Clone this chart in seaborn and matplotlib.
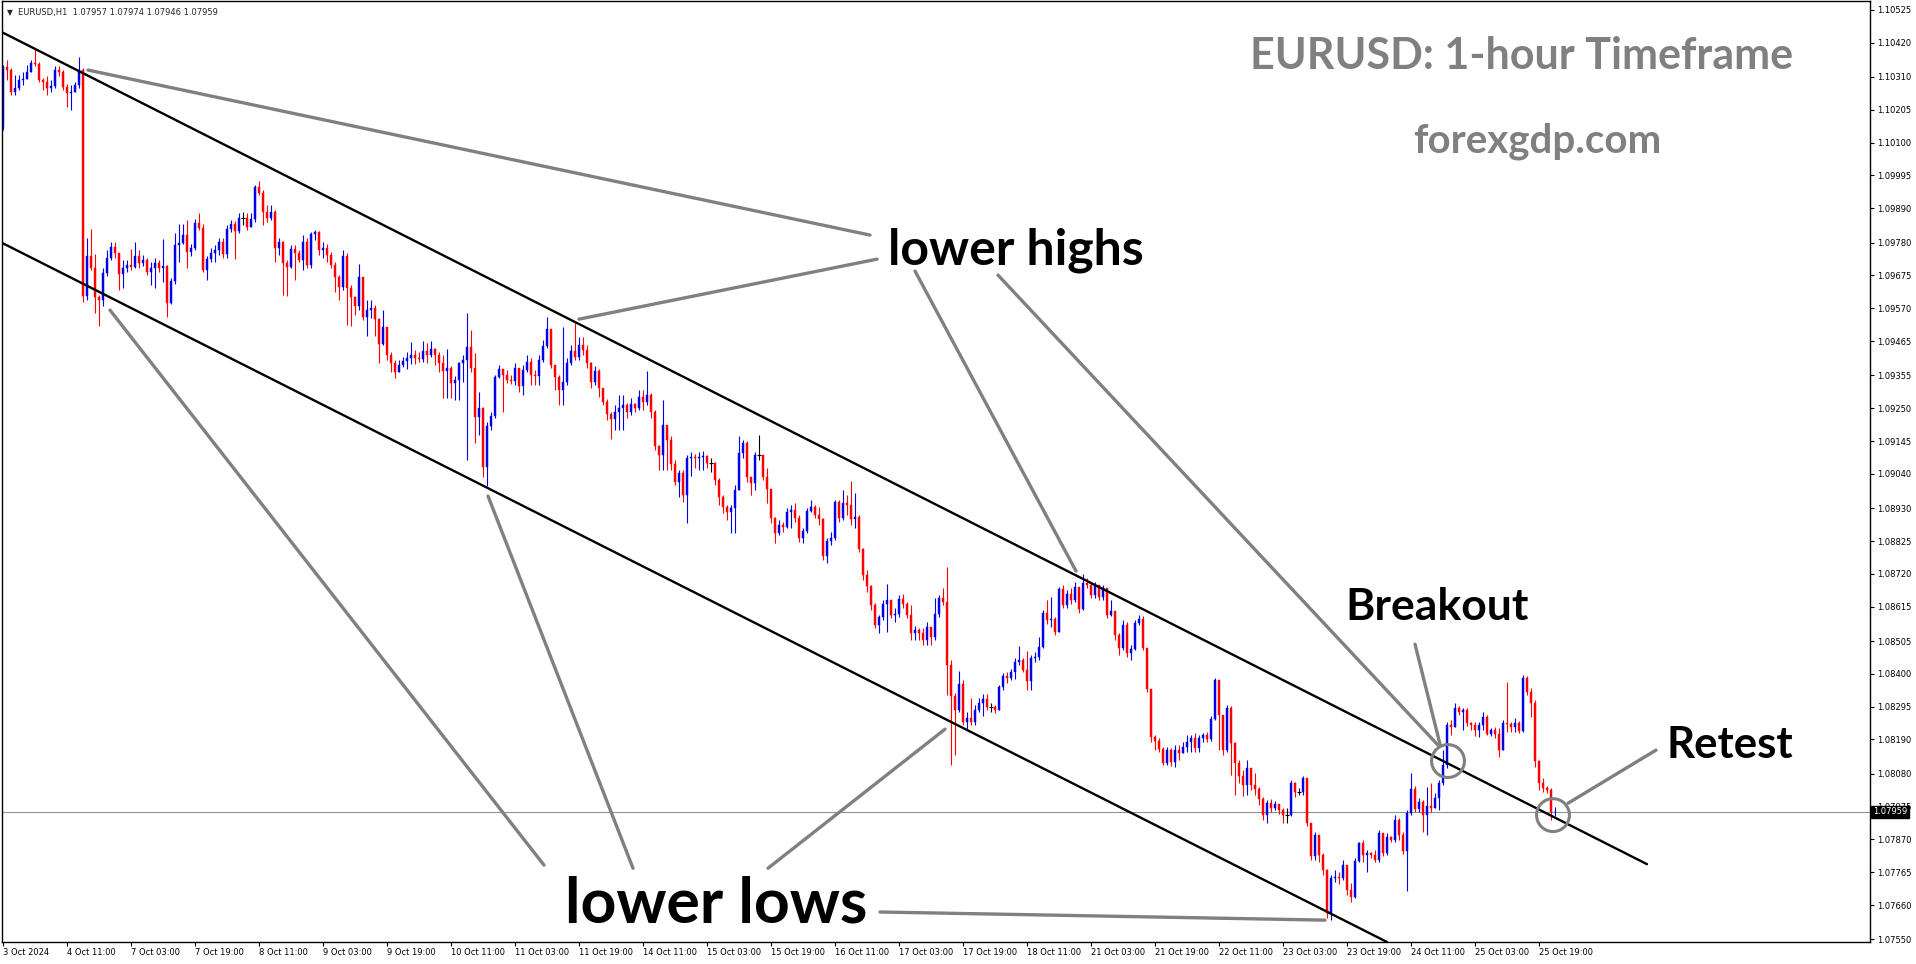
import numpy as np
import pandas as pd
import matplotlib
matplotlib.use("Agg")
import matplotlib.pyplot as plt
import matplotlib.transforms as mtransforms
import seaborn as sns

# EURUSD H1, bar 0 = 3 Oct 19:00 ... bar 388 = 25 Oct 23:00, prices in points (1e-5)
first_open = 110150
close_pts = [
    110342, 110332, 110262, 110274, 110300, 110303, 110326, 110354, 110351, 110300, 110294, 110274, 110281, 110332, 110326, 110278, 110258, 110262, 110284, 110332,
    109609, 109737, 109698, 109606, 109596, 109682, 109730, 109766, 109746, 109679, 109698, 109708, 109702, 109737, 109714, 109724, 109686, 109698, 109714, 109698,
    109705, 109586, 109657, 109772, 109778, 109804, 109750, 109762, 109842, 109826, 109692, 109727, 109746, 109756, 109782, 109743, 109823, 109839, 109817, 109858,
    109858, 109830, 109855, 109958, 109938, 109878, 109858, 109878, 109762, 109782, 109714, 109702, 109759, 109746, 109724, 109782, 109708, 109807, 109814, 109756,
    109762, 109740, 109708, 109670, 109638, 109737, 109634, 109606, 109577, 109670, 109542, 109564, 109570, 109535, 109455, 109510, 109420, 109394, 109366, 109388,
    109401, 109410, 109420, 109410, 109407, 109433, 109420, 109439, 109420, 109394, 109369, 109378, 109330, 109340, 109394, 109404, 109446, 109378, 109222, 109250,
    109062, 109193, 109225, 109350, 109375, 109356, 109340, 109337, 109378, 109321, 109372, 109398, 109356, 109353, 109404, 109449, 109503, 109388, 109350, 109308,
    109334, 109394, 109433, 109414, 109452, 109436, 109394, 109334, 109369, 109314, 109270, 109231, 109215, 109238, 109250, 109260, 109238, 109263, 109250, 109286,
    109270, 109292, 109238, 109129, 109100, 109196, 109148, 109071, 109014, 109042, 108972, 109090, 109094, 109090, 109094, 109097, 109074, 109074, 109020, 108966,
    108934, 108918, 108930, 108988, 109106, 109138, 109030, 109010, 109100, 109100, 109030, 108991, 108898, 108850, 108876, 108870, 108918, 108924, 108898, 108834,
    108857, 108921, 108934, 108908, 108895, 108777, 108825, 108834, 108950, 108898, 108946, 108940, 108895, 108902, 108799, 108716, 108681, 108620, 108556, 108582,
    108623, 108636, 108588, 108591, 108639, 108623, 108588, 108530, 108540, 108530, 108508, 108550, 108518, 108591, 108642, 108630, 108428, 108329, 108284, 108367,
    108246, 108258, 108246, 108284, 108306, 108319, 108294, 108294, 108284, 108358, 108393, 108386, 108406, 108438, 108444, 108412, 108377, 108450, 108454, 108486,
    108594, 108572, 108575, 108534, 108671, 108620, 108655, 108636, 108678, 108607, 108690, 108684, 108652, 108684, 108646, 108674, 108588, 108601, 108524, 108482,
    108556, 108466, 108479, 108562, 108575, 108482, 108351, 108198, 108185, 108159, 108114, 108156, 108118, 108156, 108146, 108166, 108182, 108194, 108162, 108194,
    108204, 108191, 108255, 108380, 108268, 108156, 108290, 108178, 108114, 108073, 108044, 108098, 108044, 108031, 107999, 107948, 107986, 107970, 107983, 107964,
    107948, 107948, 108050, 108022, 108022, 108066, 107922, 107817, 107884, 107820, 107772, 107634, 107746, 107750, 107746, 107788, 107708, 107686, 107801, 107858,
    107820, 107826, 107820, 107804, 107890, 107826, 107878, 107868, 107932, 107884, 107833, 107954, 108031, 107967, 107990, 107948, 107977, 107970, 108002, 108050,
    108108, 108236, 108230, 108290, 108278, 108284, 108242, 108236, 108220, 108236, 108262, 108207, 108220, 108207, 108156, 108242, 108239, 108230, 108242, 108217,
    108386, 108342, 108306, 108121, 108050, 108034, 108028, 107957, 107959,
]
high_pts = [
    110348, 110364, 110338, 110316, 110316, 110326, 110348, 110364, 110402, 110358, 110306, 110313, 110300, 110345, 110345, 110332, 110287, 110284, 110294, 110374,
    110338, 109794, 109823, 109743, 109612, 109698, 109756, 109782, 109782, 109708, 109724, 109724, 109759, 109782, 109756, 109740, 109730, 109718, 109730, 109724,
    109791, 109708, 109666, 109810, 109839, 109839, 109852, 109775, 109855, 109874, 109839, 109737, 109762, 109772, 109794, 109794, 109836, 109852, 109849, 109874,
    109878, 109874, 109874, 109964, 109977, 109948, 109900, 109900, 109884, 109794, 109785, 109724, 109772, 109772, 109756, 109804, 109794, 109814, 109820, 109817,
    109782, 109775, 109750, 109718, 109676, 109756, 109746, 109644, 109609, 109711, 109663, 109596, 109596, 109580, 109538, 109564, 109510, 109430, 109404, 109404,
    109414, 109430, 109462, 109436, 109430, 109465, 109458, 109465, 109442, 109430, 109420, 109439, 109385, 109353, 109398, 109420, 109554, 109500, 109426, 109302,
    109254, 109206, 109238, 109356, 109388, 109362, 109372, 109356, 109394, 109378, 109388, 109420, 109410, 109372, 109420, 109468, 109542, 109500, 109388, 109356,
    109510, 109410, 109452, 109522, 109478, 109478, 109452, 109398, 109385, 109375, 109314, 109279, 109238, 109260, 109292, 109292, 109266, 109282, 109266, 109308,
    109308, 109369, 109298, 109244, 109132, 109276, 109196, 109161, 109084, 109052, 109052, 109100, 109110, 109103, 109110, 109113, 109100, 109090, 109078, 109026,
    108972, 108940, 108940, 109004, 109161, 109148, 109145, 109026, 109110, 109164, 109100, 109058, 108991, 108902, 108892, 108886, 108930, 108940, 108946, 108908,
    108866, 108930, 108956, 108940, 108934, 108898, 108834, 108854, 108956, 108956, 108988, 108972, 109017, 108978, 108908, 108802, 108732, 108684, 108626, 108588,
    108636, 108687, 108620, 108610, 108652, 108655, 108630, 108620, 108553, 108546, 108546, 108566, 108550, 108642, 108652, 108674, 108742, 108444, 108338, 108409,
    108380, 108278, 108322, 108300, 108322, 108335, 108335, 108306, 108300, 108364, 108402, 108406, 108415, 108450, 108489, 108450, 108473, 108460, 108470, 108518,
    108604, 108636, 108646, 108582, 108678, 108684, 108668, 108674, 108694, 108668, 108719, 108706, 108690, 108694, 108668, 108684, 108674, 108636, 108598, 108530,
    108572, 108566, 108492, 108572, 108588, 108585, 108482, 108351, 108204, 108194, 108166, 108166, 108162, 108172, 108172, 108182, 108204, 108204, 108210, 108204,
    108210, 108214, 108265, 108386, 108370, 108268, 108300, 108297, 108182, 108124, 108092, 108124, 108098, 108082, 108038, 108006, 107996, 108000, 107993, 107983,
    107970, 107970, 108060, 108054, 108034, 108073, 108066, 107922, 107894, 107884, 107826, 107775, 107756, 107772, 107766, 107804, 107788, 107730, 107810, 107862,
    107868, 107836, 107830, 107836, 107900, 107890, 107890, 107881, 107948, 107938, 107894, 107964, 108082, 108041, 108002, 107996, 108038, 108050, 108018, 108060,
    108156, 108246, 108252, 108306, 108297, 108290, 108290, 108246, 108246, 108246, 108278, 108268, 108226, 108230, 108226, 108252, 108374, 108246, 108258, 108249,
    108396, 108393, 108354, 108316, 108124, 108066, 108041, 108034, 107974,
]
low_pts = [
    110140, 110300, 110252, 110252, 110268, 110284, 110306, 110332, 110345, 110294, 110268, 110252, 110262, 110274, 110313, 110268, 110214, 110204, 110262, 110274,
    109590, 109596, 109692, 109554, 109513, 109577, 109673, 109724, 109730, 109628, 109634, 109686, 109692, 109698, 109698, 109705, 109676, 109644, 109634, 109686,
    109654, 109542, 109583, 109647, 109718, 109775, 109698, 109737, 109756, 109820, 109686, 109660, 109718, 109718, 109740, 109730, 109730, 109814, 109727, 109810,
    109836, 109820, 109833, 109846, 109932, 109836, 109846, 109852, 109718, 109740, 109612, 109609, 109698, 109660, 109718, 109692, 109698, 109698, 109788, 109740,
    109730, 109718, 109698, 109622, 109596, 109628, 109516, 109513, 109548, 109564, 109532, 109481, 109538, 109481, 109394, 109452, 109404, 109366, 109346, 109366,
    109382, 109375, 109391, 109391, 109398, 109398, 109394, 109414, 109388, 109366, 109282, 109282, 109282, 109276, 109276, 109334, 109084, 109366, 109138, 109164,
    109030, 109001, 109180, 109218, 109346, 109238, 109330, 109327, 109324, 109302, 109292, 109366, 109324, 109324, 109324, 109398, 109442, 109378, 109308, 109260,
    109260, 109324, 109388, 109404, 109404, 109420, 109378, 109314, 109324, 109286, 109260, 109212, 109151, 109180, 109180, 109180, 109218, 109228, 109238, 109244,
    109244, 109260, 109218, 109116, 109052, 109052, 109052, 109052, 109004, 108966, 108950, 108882, 109033, 109058, 109052, 109052, 109058, 109046, 109004, 108940,
    108914, 108892, 108850, 108850, 108988, 109090, 109014, 108972, 108988, 109084, 109020, 108946, 108882, 108818, 108844, 108854, 108866, 108866, 108886, 108822,
    108818, 108850, 108918, 108898, 108876, 108764, 108754, 108812, 108828, 108886, 108892, 108908, 108876, 108866, 108790, 108700, 108662, 108604, 108546, 108530,
    108572, 108534, 108578, 108566, 108582, 108610, 108578, 108508, 108508, 108508, 108492, 108492, 108492, 108508, 108582, 108620, 108332, 108108, 108140, 108278,
    108236, 108220, 108236, 108236, 108278, 108265, 108284, 108278, 108274, 108284, 108348, 108370, 108380, 108383, 108428, 108406, 108348, 108348, 108438, 108444,
    108482, 108559, 108550, 108524, 108534, 108610, 108610, 108623, 108630, 108594, 108604, 108674, 108642, 108642, 108636, 108636, 108578, 108585, 108508, 108460,
    108476, 108454, 108444, 108476, 108556, 108476, 108342, 108182, 108156, 108150, 108108, 108108, 108105, 108102, 108124, 108146, 108150, 108150, 108150, 108150,
    108182, 108182, 108185, 108252, 108156, 108140, 108150, 108076, 108012, 108050, 108009, 108012, 108028, 108012, 107980, 107932, 107922, 107958, 107964, 107951,
    107922, 107922, 107945, 108006, 108012, 108012, 107913, 107804, 107804, 107798, 107756, 107618, 107612, 107734, 107727, 107740, 107692, 107670, 107682, 107798,
    107798, 107766, 107810, 107798, 107798, 107817, 107820, 107862, 107862, 107868, 107823, 107705, 107948, 107958, 107958, 107894, 107884, 107958, 107970, 107964,
    108044, 108098, 108204, 108230, 108268, 108220, 108233, 108220, 108201, 108198, 108220, 108204, 108201, 108194, 108134, 108162, 108214, 108214, 108214, 108210,
    108214, 108332, 108262, 108102, 108028, 108022, 108018, 107932, 107946,
]

time_labels = ["3 Oct 2024", "4 Oct 11:00", "7 Oct 03:00", "7 Oct 19:00", "8 Oct 11:00",
               "9 Oct 03:00", "9 Oct 19:00", "10 Oct 11:00", "11 Oct 03:00", "11 Oct 19:00",
               "14 Oct 11:00", "15 Oct 03:00", "15 Oct 19:00", "16 Oct 11:00", "17 Oct 03:00",
               "17 Oct 19:00", "18 Oct 11:00", "21 Oct 03:00", "21 Oct 19:00", "22 Oct 11:00",
               "23 Oct 03:00", "23 Oct 19:00", "24 Oct 11:00", "25 Oct 03:00", "25 Oct 19:00"]
price_ticks = [1.10525, 1.10420, 1.10310, 1.10205, 1.10100, 1.09995, 1.09890, 1.09780,
               1.09675, 1.09570, 1.09465, 1.09355, 1.09250, 1.09145, 1.09040, 1.08930,
               1.08825, 1.08720, 1.08615, 1.08505, 1.08400, 1.08295, 1.08190, 1.08080,
               1.07975, 1.07870, 1.07765, 1.07660, 1.07550]

# channel lines (bar, price)
channel_upper = ([-1, 411], [1.10458, 1.07791])
channel_lower = ([-1, 346], [1.09784, 1.07542])
# grey pointer lines (bar0, price0, bar1, price1)
pointer_lines = [
    (21.25, 1.10332, 216.75, 1.09804),
    (144.0, 1.09535, 218.5, 1.09727),
    (268.25, 1.08729, 228.0, 1.09689),
    (358.75, 1.08172, 248.75, 1.09676),
    (26.75, 1.09564, 135.25, 1.07788),
    (121.25, 1.08969, 157.5, 1.07778),
    (235.5, 1.08223, 191.25, 1.07778),
    (219.25, 1.07638, 330.5, 1.07612),
    (353.0, 1.08495, 359.25, 1.08175),
    (391.25, 1.07986, 413.25, 1.08156),
]
circles = [(361.25, 1.08121), (387.5, 1.07948)]

close = np.array(close_pts) / 1e5
high = np.array(high_pts) / 1e5
low = np.array(low_pts) / 1e5
opn = np.concatenate([[first_open / 1e5], close[:-1]])
high = np.maximum(high, np.maximum(opn, close))
low = np.minimum(low, np.minimum(opn, close))
bars = np.arange(len(close))

sns.set_style("white")
plt.rcParams["font.family"] = ["DejaVu Sans"]

fig = plt.figure(figsize=(19.16, 9.64), dpi=100)
ax = fig.add_axes([2 / 1916, 22 / 964, 1868 / 1916, 941 / 964])

up = close > opn
down = close < opn
flat = ~(up | down)
blue, red = "#0000e6", "#ff0000"

ax.vlines(bars[up], low[up], high[up], color=blue, lw=0.8, zorder=2)
ax.vlines(bars[down], low[down], high[down], color=red, lw=0.8, zorder=2)
ax.vlines(bars[flat], low[flat], high[flat], color="black", lw=0.8, zorder=2)
ax.bar(bars[up], (close - opn)[up], bottom=opn[up], width=0.72, color=blue,
       edgecolor=blue, lw=0.3, zorder=2)
ax.bar(bars[down], (close - opn)[down], bottom=opn[down], width=0.72, color=red,
       edgecolor=red, lw=0.3, zorder=2)
ax.hlines(close[flat], bars[flat] - 0.4, bars[flat] + 0.4, color="black", lw=0.8, zorder=2)

# trend channel
chan = pd.DataFrame({
    "bar": channel_upper[0] + channel_lower[0],
    "price": channel_upper[1] + channel_lower[1],
    "seg": ["up", "up", "low", "low"],
})
sns.lineplot(data=chan, x="bar", y="price", units="seg", estimator=None, sort=False,
             color="black", lw=1.7, ax=ax, zorder=3)

rows = []
for k, (b0, p0, b1, p1) in enumerate(pointer_lines):
    rows.append((k, b0, p0))
    rows.append((k, b1, p1))
ptr = pd.DataFrame(rows, columns=["seg", "bar", "price"])
sns.lineplot(data=ptr, x="bar", y="price", units="seg", estimator=None, sort=False,
             color="#808080", lw=2.4, ax=ax, zorder=4)

ax.scatter([c[0] for c in circles], [c[1] for c in circles], s=560,
           facecolors="none", edgecolors="#808080", linewidths=2.2, zorder=5)

# current price line + box
last = close[-1]
ax.axhline(last, color="#8793a3", lw=0.8, zorder=1)
trans = mtransforms.blended_transform_factory(ax.transAxes, ax.transData)
ax.text(1.0015, last, f"{last:.5f}", transform=trans, color="white", fontsize=6,
        va="center", ha="left", clip_on=False, zorder=10,
        bbox=dict(boxstyle="square,pad=0.2", fc="black", ec="black"))

ax.set_xlim(-0.25, 466.75)
ax.set_ylim(1.07542, 1.10553)
ax.set_xlabel("")
ax.set_ylabel("")

ax.set_xticks(np.arange(0, 16 * len(time_labels), 16))
ax.set_xticklabels(time_labels)
for lbl in ax.get_xticklabels():
    lbl.set_horizontalalignment("left")
ax.yaxis.tick_right()
ax.set_yticks(price_ticks)
ax.set_yticklabels([f"{v:.5f}" for v in price_ticks])
ax.tick_params(axis="both", labelsize=6, length=3, width=0.8, direction="out",
               color="black", labelcolor="black", pad=2)
ax.tick_params(axis="x", bottom=True, pad=1)
ax.tick_params(axis="y", right=True, left=False)
for s in ax.spines.values():
    s.set_visible(True)
    s.set_color("black")
    s.set_linewidth(1.0)

# header
ax.text(0.0045, 0.988, "▼", transform=ax.transAxes, fontsize=5.5, va="center", ha="center")
ax.text(0.0085, 0.988,
        f"EURUSD,H1  {opn[-1]:.5f} {high[-1]:.5f} {low[-1]:.5f} {close[-1]:.5f}",
        transform=ax.transAxes, fontsize=6, va="center", ha="left")

bold = dict(family=["Lato", "DejaVu Sans"], fontweight="bold", ha="center", va="center", zorder=6)
ax.text(379.75, 1.10378, "EURUSD: 1-hour Timeframe", color="#808080", fontsize=31, **bold)
ax.text(383.5, 1.10105, "forexgdp.com", color="#808080", fontsize=29, **bold)
ax.text(253.25, 1.09756, "lower highs", color="black", fontsize=36, **bold)
ax.text(178.25, 1.07663, "lower lows", color="black", fontsize=45, **bold)
ax.text(358.5, 1.08614, "Breakout", color="black", fontsize=32, **bold)
ax.text(431.75, 1.08172, "Retest", color="black", fontsize=31.5, **bold)

fig.savefig("out.png", dpi=100)
